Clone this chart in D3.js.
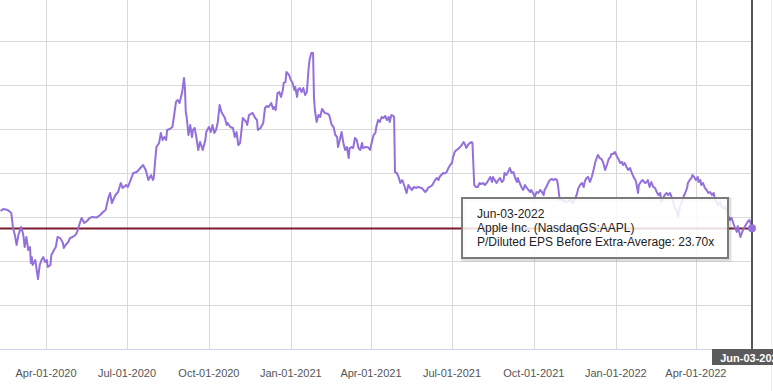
<!DOCTYPE html>
<html>
<head>
<meta charset="utf-8">
<title>Apple Inc. P/Diluted EPS Before Extra</title>
<style>
  body { margin: 0; background: #fff; }
  svg { display: block; font-family: "Liberation Sans", Arial, sans-serif; }
</style>
</head>
<body>
<script src="https://cdn.jsdelivr.net/npm/d3@7"></script>
<script>

// P/Diluted EPS before extra
var peSeries = [
  ["2020-02-10",25.68],["2020-02-13",25.91],["2020-02-18",25.80],["2020-02-22",25.45],["2020-02-24",23.75],
  ["2020-02-26",22.95],["2020-02-28",21.82],["2020-03-01",22.95],["2020-03-04",23.86],["2020-03-06",23.18],
  ["2020-03-07",22.61],["2020-03-08",21.59],["2020-03-10",22.73],["2020-03-12",21.25],["2020-03-14",21.59],
  ["2020-03-15",19.77],["2020-03-16",20.45],["2020-03-17",19.55],["2020-03-20",20.11],["2020-03-22",18.64],
  ["2020-03-23",17.95],["2020-03-25",19.55],["2020-03-27",20.11],["2020-03-29",20.45],["2020-03-31",19.89],
  ["2020-04-02",20.11],["2020-04-03",19.32],["2020-04-06",19.55],["2020-04-07",20.68],["2020-04-10",21.25],
  ["2020-04-12",21.59],["2020-04-14",22.73],["2020-04-17",22.60],["2020-04-20",22.05],["2020-04-21",21.48],
  ["2020-04-23",21.82],["2020-04-26",22.16],["2020-04-28",22.61],["2020-05-01",22.73],["2020-05-04",22.95],
  ["2020-05-06",23.30],["2020-05-09",24.32],["2020-05-11",24.89],["2020-05-14",24.32],["2020-05-17",24.55],
  ["2020-05-20",24.89],["2020-05-23",25.00],["2020-05-28",24.95],["2020-06-01",25.23],["2020-06-04",25.57],
  ["2020-06-07",25.80],["2020-06-10",27.16],["2020-06-12",27.73],["2020-06-14",26.59],["2020-06-18",27.50],
  ["2020-06-21",27.84],["2020-06-24",28.86],["2020-06-26",28.30],["2020-06-30",28.64],["2020-07-02",28.41],
  ["2020-07-05",29.20],["2020-07-08",30.00],["2020-07-12",30.11],["2020-07-16",30.57],["2020-07-19",30.91],
  ["2020-07-22",30.34],["2020-07-25",29.20],["2020-07-28",29.77],["2020-07-30",29.20],["2020-07-31",29.43],
  ["2020-08-02",31.82],["2020-08-03",32.95],["2020-08-06",33.41],["2020-08-08",34.55],["2020-08-10",33.75],
  ["2020-08-12",34.09],["2020-08-14",33.75],["2020-08-15",34.89],["2020-08-18",35.00],["2020-08-21",35.23],
  ["2020-08-23",36.59],["2020-08-25",38.07],["2020-08-27",38.30],["2020-08-29",37.95],["2020-09-01",39.20],
  ["2020-09-03",40.80],["2020-09-04",39.77],["2020-09-05",36.93],["2020-09-06",36.36],["2020-09-08",34.32],
  ["2020-09-10",35.45],["2020-09-12",34.09],["2020-09-13",34.89],["2020-09-15",35.11],["2020-09-17",33.98],
  ["2020-09-19",32.61],["2020-09-21",33.52],["2020-09-23",32.95],["2020-09-24",32.61],["2020-09-27",33.75],
  ["2020-09-28",34.66],["2020-10-01",35.23],["2020-10-03",34.66],["2020-10-05",35.45],["2020-10-07",34.55],
  ["2020-10-09",34.89],["2020-10-11",35.80],["2020-10-13",37.73],["2020-10-15",36.93],["2020-10-17",36.59],
  ["2020-10-19",36.25],["2020-10-21",35.45],["2020-10-22",35.68],["2020-10-25",35.23],["2020-10-28",35.11],
  ["2020-10-30",34.09],["2020-11-01",34.66],["2020-11-03",33.18],["2020-11-05",33.41],["2020-11-07",35.23],
  ["2020-11-08",36.25],["2020-11-12",35.80],["2020-11-13",35.45],["2020-11-15",36.59],["2020-11-19",36.82],
  ["2020-11-22",36.25],["2020-11-24",36.02],["2020-11-25",34.89],["2020-11-28",35.11],["2020-12-01",35.68],
  ["2020-12-03",37.39],["2020-12-05",37.61],["2020-12-07",37.50],["2020-12-10",37.95],["2020-12-12",37.27],
  ["2020-12-13",37.50],["2020-12-15",37.16],["2020-12-17",39.09],["2020-12-19",39.20],["2020-12-21",38.64],
  ["2020-12-23",39.43],["2020-12-24",40.23],["2020-12-26",40.34],["2020-12-27",41.48],["2020-12-30",41.14],
  ["2021-01-01",40.57],["2021-01-03",40.23],["2021-01-05",39.43],["2021-01-06",39.77],["2021-01-08",38.64],
  ["2021-01-09",39.43],["2021-01-11",39.66],["2021-01-13",39.20],["2021-01-15",39.66],["2021-01-17",38.86],
  ["2021-01-19",39.20],["2021-01-21",41.93],["2021-01-22",42.84],["2021-01-24",43.64],["2021-01-26",43.64],
  ["2021-01-27",38.52],["2021-01-28",37.16],["2021-01-30",35.80],["2021-02-01",36.59],["2021-02-03",36.36],
  ["2021-02-05",37.27],["2021-02-06",37.16],["2021-02-08",36.82],["2021-02-11",36.75],["2021-02-13",36.59],
  ["2021-02-16",35.45],["2021-02-18",35.23],["2021-02-20",34.32],["2021-02-22",34.09],["2021-02-23",32.95],
  ["2021-02-25",33.75],["2021-02-27",34.66],["2021-03-01",33.41],["2021-03-03",32.61],["2021-03-05",32.95],
  ["2021-03-07",31.70],["2021-03-08",32.84],["2021-03-10",32.95],["2021-03-12",32.84],["2021-03-14",33.98],
  ["2021-03-16",33.75],["2021-03-18",32.84],["2021-03-20",32.61],["2021-03-22",33.41],["2021-03-23",32.84],
  ["2021-03-26",32.95],["2021-03-29",32.90],["2021-03-31",32.61],["2021-04-02",33.52],["2021-04-04",34.32],
  ["2021-04-06",34.55],["2021-04-07",35.23],["2021-04-09",36.02],["2021-04-11",35.80],["2021-04-13",36.36],
  ["2021-04-15",36.25],["2021-04-17",36.48],["2021-04-19",36.02],["2021-04-21",36.36],["2021-04-22",35.80],
  ["2021-04-24",36.59],["2021-04-26",36.48],["2021-04-27",36.36],["2021-04-28",30.11],["2021-04-30",30.00],
  ["2021-05-02",29.55],["2021-05-04",28.86],["2021-05-06",29.20],["2021-05-07",28.98],["2021-05-09",28.41],
  ["2021-05-11",27.73],["2021-05-13",28.64],["2021-05-15",28.30],["2021-05-17",28.07],["2021-05-19",28.41],
  ["2021-05-22",28.30],["2021-05-24",28.41],["2021-05-26",28.35],["2021-05-28",28.30],["2021-05-30",28.07],
  ["2021-06-01",27.84],["2021-06-03",28.07],["2021-06-04",28.30],["2021-06-06",28.41],["2021-06-09",28.64],
  ["2021-06-12",29.20],["2021-06-14",29.43],["2021-06-16",29.20],["2021-06-17",29.55],["2021-06-21",30.00],
  ["2021-06-23",29.95],["2021-06-25",30.11],["2021-06-27",30.57],["2021-06-29",30.91],["2021-07-01",31.14],
  ["2021-07-02",31.70],["2021-07-04",32.39],["2021-07-06",32.61],["2021-07-08",32.73],["2021-07-10",32.95],
  ["2021-07-12",33.18],["2021-07-14",33.52],["2021-07-16",33.18],["2021-07-17",32.84],["2021-07-19",33.18],
  ["2021-07-21",33.41],["2021-07-23",33.52],["2021-07-24",33.41],["2021-07-26",28.64],["2021-07-28",28.41],
  ["2021-07-30",28.41],["2021-08-01",28.86],["2021-08-03",28.75],["2021-08-05",28.86],["2021-08-07",28.64],
  ["2021-08-09",28.86],["2021-08-11",29.20],["2021-08-13",29.55],["2021-08-15",28.98],["2021-08-16",29.55],
  ["2021-08-18",29.20],["2021-08-20",28.86],["2021-08-22",29.20],["2021-08-24",29.43],["2021-08-26",28.98],
  ["2021-08-28",29.20],["2021-08-29",30.00],["2021-08-31",29.77],["2021-09-02",30.11],["2021-09-04",30.57],
  ["2021-09-06",30.00],["2021-09-08",30.11],["2021-09-10",29.43],["2021-09-12",28.98],["2021-09-13",29.43],
  ["2021-09-15",28.86],["2021-09-17",28.41],["2021-09-19",28.07],["2021-09-21",28.64],["2021-09-23",28.30],
  ["2021-09-25",28.07],["2021-09-27",27.84],["2021-09-28",28.07],["2021-09-30",27.73],["2021-10-02",27.27],
  ["2021-10-04",27.84],["2021-10-06",27.73],["2021-10-08",28.07],["2021-10-10",27.84],["2021-10-12",27.50],
  ["2021-10-13",28.07],["2021-10-15",28.41],["2021-10-17",28.86],["2021-10-19",29.20],["2021-10-21",29.32],
  ["2021-10-23",29.20],["2021-10-25",29.32],["2021-10-27",29.20],["2021-10-28",28.64],["2021-10-30",26.93],
  ["2021-11-01",27.16],["2021-11-03",26.82],["2021-11-07",26.70],["2021-11-11",26.93],["2021-11-14",26.59],
  ["2021-11-16",27.05],["2021-11-18",27.50],["2021-11-20",28.30],["2021-11-22",28.64],["2021-11-24",28.86],
  ["2021-11-26",28.41],["2021-11-27",28.98],["2021-11-29",29.43],["2021-12-01",29.55],["2021-12-03",28.98],
  ["2021-12-05",29.55],["2021-12-07",30.34],["2021-12-09",31.25],["2021-12-11",31.82],["2021-12-12",32.05],
  ["2021-12-14",31.70],["2021-12-16",31.59],["2021-12-18",31.14],["2021-12-20",30.34],["2021-12-22",30.91],
  ["2021-12-24",31.59],["2021-12-26",31.82],["2021-12-27",32.16],["2021-12-29",32.16],["2021-12-31",32.39],
  ["2022-01-02",31.93],["2022-01-04",31.59],["2022-01-06",31.14],["2022-01-08",31.25],["2022-01-09",30.91],
  ["2022-01-11",31.14],["2022-01-13",30.68],["2022-01-15",30.34],["2022-01-17",30.57],["2022-01-19",30.00],
  ["2022-01-21",29.55],["2022-01-23",29.20],["2022-01-24",28.86],["2022-01-26",27.73],["2022-01-27",28.64],
  ["2022-01-29",28.98],["2022-01-31",29.20],["2022-02-03",28.86],["2022-02-05",28.98],["2022-02-06",29.20],
  ["2022-02-08",28.41],["2022-02-10",28.98],["2022-02-12",28.41],["2022-02-14",28.30],["2022-02-16",27.84],
  ["2022-02-18",27.50],["2022-02-20",27.73],["2022-02-21",26.70],["2022-02-23",27.16],["2022-02-25",27.50],
  ["2022-02-27",27.73],["2022-03-01",27.50],["2022-03-03",27.73],["2022-03-05",27.16],["2022-03-07",26.59],
  ["2022-03-08",26.14],["2022-03-10",25.80],["2022-03-12",25.00],["2022-03-14",26.14],["2022-03-16",26.70],
  ["2022-03-18",27.27],["2022-03-20",27.73],["2022-03-22",28.30],["2022-03-23",28.86],["2022-03-25",29.20],
  ["2022-03-27",29.43],["2022-03-28",29.77],["2022-03-30",29.55],["2022-04-01",29.20],["2022-04-03",29.55],
  ["2022-04-04",28.98],["2022-04-06",29.20],["2022-04-07",28.64],["2022-04-09",28.86],["2022-04-11",28.30],
  ["2022-04-13",28.07],["2022-04-15",27.73],["2022-04-17",27.84],["2022-04-19",27.50],["2022-04-21",27.73],
  ["2022-04-22",27.16],["2022-04-24",26.70],["2022-04-26",26.36],["2022-04-28",26.70],["2022-04-30",26.14],
  ["2022-05-02",26.02],["2022-05-04",26.14],["2022-05-06",25.57],["2022-05-07",25.23],["2022-05-09",24.66],
  ["2022-05-11",24.89],["2022-05-13",24.32],["2022-05-15",23.75],["2022-05-17",23.30],["2022-05-18",23.98],
  ["2022-05-21",22.73],["2022-05-23",23.30],["2022-05-25",23.75],["2022-05-27",24.09],["2022-05-29",24.43],
  ["2022-05-31",24.66],["2022-06-01",24.43],["2022-06-03",23.72]
];

var averageValue = 23.70;
var tickDates = ["2020-04-01","2020-07-01","2020-10-01","2021-01-01","2021-04-01",
                 "2021-07-01","2021-10-01","2022-01-01","2022-04-01"];
var gridValues = [15, 20, 25, 30, 35, 40, 45];
var hoverDate = "2022-06-03";
var tooltipLines = ["Jun-03-2022", "Apple Inc. (NasdaqGS:AAPL)",
                    "P/Diluted EPS Before Extra-Average: 23.70x"];

var width = 773, height = 391;
var plotRight = 752, plotBottom = 349;

var parseDate = d3.timeParse("%Y-%m-%d");
var fmt = d3.timeFormat("%b-%d-%Y");

var data = peSeries.map(function(d) { return { date: parseDate(d[0]), value: d[1] }; });
var lastPoint = data[data.length - 1];

var x = d3.scaleTime()
    .domain([parseDate("2020-04-01"), parseDate(hoverDate)])
    .range([46, plotRight]);
var y = d3.scaleLinear().domain([10, 50]).range([plotBottom, -3]);

var svg = d3.select("body").append("svg")
    .attr("width", width)
    .attr("height", height);

// grid
svg.append("g").selectAll("line.h")
  .data(gridValues).enter().append("line")
    .attr("x1", 0).attr("x2", plotRight)
    .attr("y1", function(d) { return Math.round(y(d)) + 0.5; })
    .attr("y2", function(d) { return Math.round(y(d)) + 0.5; })
    .style("stroke", "#d9d9d9").style("stroke-width", 1);

svg.append("g").selectAll("line.v")
  .data(tickDates).enter().append("line")
    .attr("x1", function(d) { return Math.round(x(parseDate(d))) + 0.5; })
    .attr("x2", function(d) { return Math.round(x(parseDate(d))) + 0.5; })
    .attr("y1", 0).attr("y2", plotBottom)
    .style("stroke", "#d9d9d9").style("stroke-width", 1);

// x axis line
svg.append("line")
    .attr("x1", 0).attr("x2", 771)
    .attr("y1", plotBottom + 0.5).attr("y2", plotBottom + 0.5)
    .style("stroke", "#ccd6eb");

svg.append("line")
    .attr("x1", 771.5).attr("x2", 771.5)
    .attr("y1", 0).attr("y2", height)
    .style("stroke", "#eeeeee");

svg.append("g").selectAll("text")
  .data(tickDates).enter().append("text")
    .attr("x", function(d) { return x(parseDate(d)); })
    .attr("y", 377)
    .attr("text-anchor", "middle")
    .style("font-size", "11px")
    .style("fill", "#555")
    .text(function(d) { return fmt(parseDate(d)); });

// average line
svg.append("line")
    .attr("x1", 0).attr("x2", plotRight)
    .attr("y1", y(averageValue)).attr("y2", y(averageValue))
    .style("stroke", "#7b1b2c").style("stroke-width", 2);

var line = d3.line()
    .x(function(d) { return x(d.date); })
    .y(function(d) { return y(d.value); });

svg.append("path")
    .datum(data)
    .attr("d", line)
    .style("fill", "none")
    .style("stroke", "#9370db")
    .style("stroke-width", 2)
    .style("stroke-linejoin", "round");

// crosshair
svg.append("line")
    .attr("x1", x(lastPoint.date)).attr("x2", x(lastPoint.date))
    .attr("y1", 0).attr("y2", plotBottom)
    .style("stroke", "#555").style("stroke-width", 2);

svg.append("circle")
    .attr("cx", x(lastPoint.date))
    .attr("cy", y(lastPoint.value))
    .attr("r", 4)
    .style("fill", "#9370db");

// tooltip
var tip = svg.append("g").attr("transform", "translate(462,198)");
tip.append("rect")
    .attr("x", 1.5).attr("y", 1.5)
    .attr("width", 266).attr("height", 60)
    .style("fill", "none")
    .style("stroke", "#000").style("stroke-opacity", 0.12).style("stroke-width", 4);
tip.append("rect")
    .attr("width", 266).attr("height", 60)
    .style("fill", "rgba(255,255,255,0.85)")
    .style("stroke", "#7a7a7a").style("stroke-width", 2);
tip.selectAll("text")
  .data(tooltipLines).enter().append("text")
    .attr("x", 15)
    .attr("y", function(d, i) { return 20 + i * 14; })
    .style("font-size", "12px")
    .style("fill", "#222")
    .text(function(d) { return d; });

// crosshair label
var lab = svg.append("g")
    .attr("transform", "translate(" + x(lastPoint.date) + "," + plotBottom + ")");
lab.append("rect")
    .attr("x", -40).attr("y", 0)
    .attr("width", 80).attr("height", 16)
    .style("fill", "#5b5b5b");
lab.append("text")
    .attr("y", 12.5)
    .attr("text-anchor", "middle")
    .style("font-size", "11px")
    .style("font-weight", "bold")
    .style("fill", "#fff")
    .text(fmt(lastPoint.date));

</script>
</body>
</html>
